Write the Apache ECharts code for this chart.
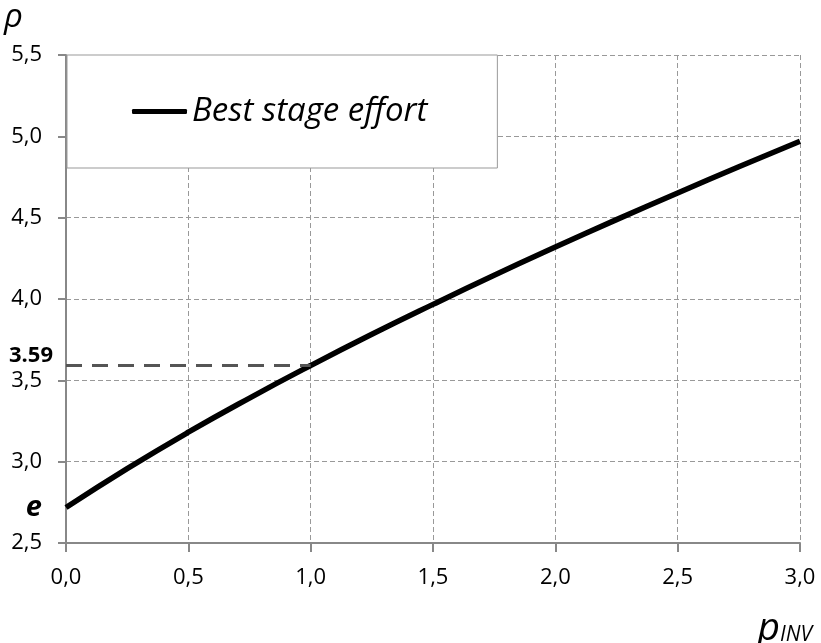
<!DOCTYPE html>
<html>
<head>
<meta charset="utf-8">
<title>Best stage effort</title>
<script src="https://cdn.jsdelivr.net/npm/echarts@6/dist/echarts.min.js"></script>
<style>
  html, body { margin: 0; padding: 0; background: #fff; }
  #chart { width: 821px; height: 643px; }
</style>
</head>
<body>
<div id="chart"></div>
<script>
// Parasitic-delay ratio p_INV and the corresponding best stage effort rho
const pInv = [0, 0.25, 0.5, 0.75, 1.0, 1.25, 1.5, 1.75, 2.0, 2.25, 2.5, 2.75, 3.0];
const rho  = [2.718, 2.957, 3.181, 3.391, 3.591, 3.783, 3.967, 4.146, 4.319, 4.488, 4.652, 4.813, 4.970];

// Highlighted reference values
const eValue = 2.718;
const refP = 1.0;
const refRho = 3.59;

const FONT = 'Open Sans';
const fmt = v => v.toFixed(1).replace('.', ',');

const chart = echarts.init(document.getElementById('chart'));

chart.setOption({
  animation: false,
  backgroundColor: '#fff',
  textStyle: { fontFamily: FONT },
  grid: { left: 66, right: 21, top: 55, bottom: 100, containLabel: false },
  legend: {
    left: 67,
    top: 55,
    orient: 'horizontal',
    padding: [40, 70, 40, 65],
    backgroundColor: '#fff',
    borderColor: '#999',
    borderWidth: 1,
    itemWidth: 55,
    itemHeight: 5,
    itemGap: 0,
    icon: 'roundRect',
    textStyle: { fontFamily: FONT, fontStyle: 'italic', fontSize: 33, color: '#000', padding: [0, 0, 0, 0] },
    data: [{ name: 'Best stage effort', itemStyle: { color: '#000' } }]
  },
  xAxis: {
    type: 'value',
    min: 0, max: 3, interval: 0.5,
    axisLine: { show: true, lineStyle: { color: '#888', width: 2 } },
    axisTick: { show: true, inside: false, length: 9, lineStyle: { color: '#888', width: 2 } },
    axisLabel: { formatter: fmt, fontSize: 22, color: '#000', margin: 24, fontFamily: FONT },
    splitLine: { show: true, lineStyle: { color: '#999', width: 1, type: [5, 3] } }
  },
  yAxis: {
    type: 'value',
    min: 2.5, max: 5.5, interval: 0.5,
    axisLine: { show: true, lineStyle: { color: '#888', width: 2 } },
    axisTick: { show: true, inside: false, length: 8, lineStyle: { color: '#888', width: 2 } },
    axisLabel: { formatter: fmt, fontSize: 22, color: '#000', margin: 24, fontFamily: FONT },
    splitLine: { show: true, lineStyle: { color: '#999', width: 1, type: [5, 3] } }
  },
  series: [{
    name: 'Best stage effort',
    type: 'line',
    data: pInv.map((p, i) => [p, rho[i]]),
    smooth: true,
    symbol: 'none',
    lineStyle: { color: '#000', width: 5.5 },
    itemStyle: { color: '#000' },
    z: 3,
    markLine: {
      silent: true,
      symbol: 'none',
      lineStyle: { color: '#555', width: 3, type: [16, 10] },
      label: {
        show: true,
        position: 'start',
        distance: 13,
        formatter: String(refRho),
        fontFamily: FONT,
        fontWeight: 'bold',
        fontSize: 22,
        color: '#000',
        offset: [0, -10]
      },
      data: [[{ coord: [0, refRho] }, { coord: [refP, refRho] }]]
    },
    markPoint: {
      silent: true,
      symbol: 'circle',
      symbolSize: 0,
      label: {
        show: true,
        position: 'left',
        distance: 24,
        formatter: 'e',
        fontFamily: FONT,
        fontWeight: 'bold',
        fontStyle: 'italic',
        fontSize: 29,
        color: '#000'
      },
      data: [{ coord: [0, eValue] }]
    }
  }],
  graphic: [
    {
      type: 'text',
      left: 4,
      top: 1,
      style: { text: 'ρ', font: 'italic 33px ' + FONT, fill: '#000' }
    },
    {
      type: 'text',
      right: 9,
      bottom: -5,
      style: {
        text: '{p|p}{s|INV}',
        rich: {
          p: { fontFamily: FONT, fontStyle: 'italic', fontSize: 39, color: '#000', verticalAlign: 'bottom' },
          s: { fontFamily: FONT, fontStyle: 'italic', fontSize: 21, color: '#000', verticalAlign: 'bottom', padding: [0, 0, 2, 0] }
        }
      }
    }
  ]
});
</script>
</body>
</html>
